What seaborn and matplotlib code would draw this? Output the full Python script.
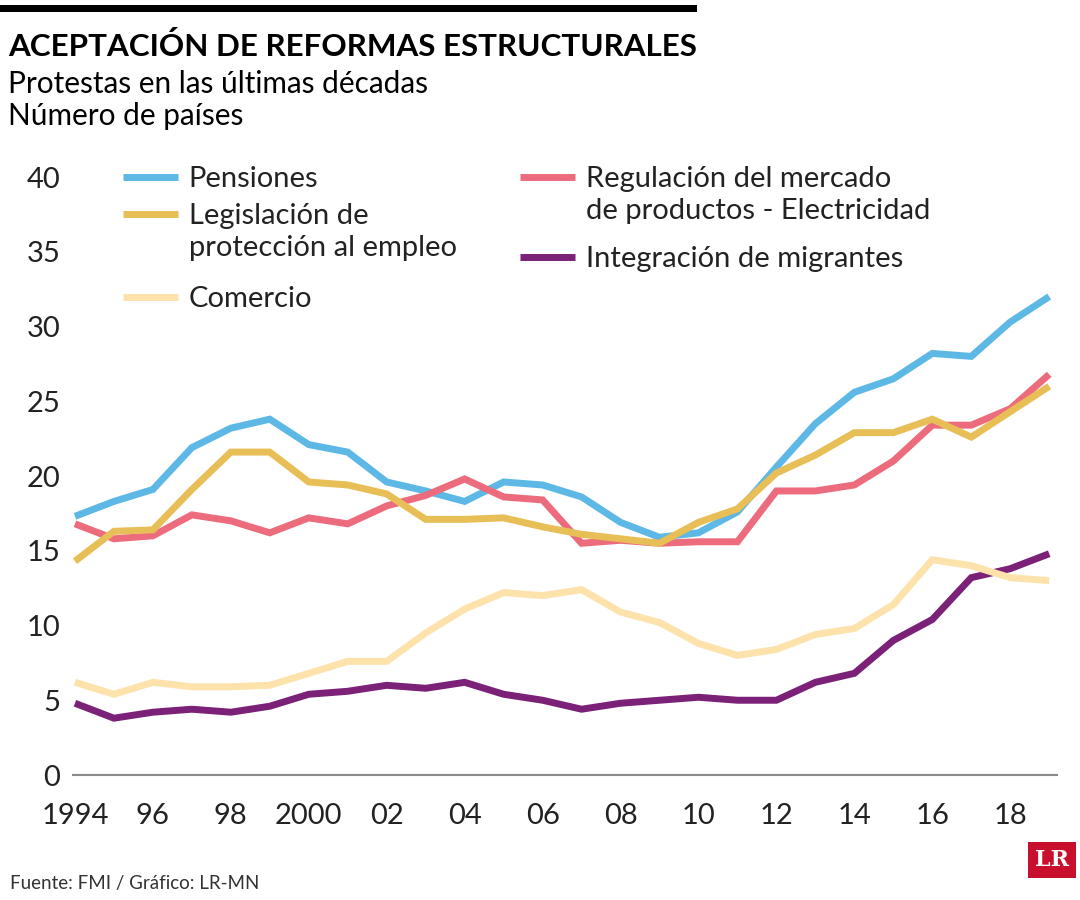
import pandas as pd
import matplotlib.pyplot as plt
import seaborn as sns
from matplotlib import font_manager
from matplotlib.lines import Line2D
from matplotlib.legend import Legend
from matplotlib.patches import Rectangle

# Data
years = list(range(1994, 2020))
pensiones = [17.3, 18.3, 19.1, 21.9, 23.2, 23.8, 22.1, 21.6, 19.6, 19.0, 18.3, 19.6, 19.4,
             18.6, 16.9, 15.9, 16.2, 17.6, 20.6, 23.5, 25.6, 26.5, 28.2, 28.0, 30.3, 32.0]
legislacion = [14.3, 16.3, 16.4, 19.1, 21.6, 21.6, 19.6, 19.4, 18.8, 17.1, 17.1, 17.2, 16.6,
               16.1, 15.8, 15.5, 16.9, 17.8, 20.2, 21.4, 22.9, 22.9, 23.8, 22.6, 24.3, 26.0]
regulacion = [16.8, 15.8, 16.0, 17.4, 17.0, 16.2, 17.2, 16.8, 18.0, 18.7, 19.8, 18.6, 18.4,
              15.5, 15.7, 15.5, 15.6, 15.6, 19.0, 19.0, 19.4, 21.0, 23.4, 23.4, 24.5, 26.8]
comercio = [6.2, 5.4, 6.2, 5.9, 5.9, 6.0, 6.8, 7.6, 7.6, 9.5, 11.1, 12.2, 12.0,
            12.4, 10.9, 10.2, 8.8, 8.0, 8.4, 9.4, 9.8, 11.4, 14.4, 14.0, 13.2, 13.0]
migrantes = [4.8, 3.8, 4.2, 4.4, 4.2, 4.6, 5.4, 5.6, 6.0, 5.8, 6.2, 5.4, 5.0,
             4.4, 4.8, 5.0, 5.2, 5.0, 5.0, 6.2, 6.8, 9.0, 10.4, 13.2, 13.8, 14.8]

x_labels = ["1994", "96", "98", "2000", "02", "04", "06", "08", "10", "12", "14", "16", "18"]
y_ticks = [0, 5, 10, 15, 20, 25, 30, 35, 40]

colors = {
    "Pensiones": "#5DB8E6",
    "Regulación": "#EC6B7C",
    "Legislación": "#E8BF57",
    "Migrantes": "#7B2177",
    "Comercio": "#FDE2AC",
}
series = {
    "Pensiones": pensiones,
    "Regulación": regulacion,
    "Legislación": legislacion,
    "Migrantes": migrantes,
    "Comercio": comercio,
}

df = pd.DataFrame({"year": years, **series})

sns.set_style("white")
available = {f.name for f in font_manager.fontManager.ttflist}
body_font = "Lato" if "Lato" in available else "DejaVu Sans"
plt.rcParams["font.family"] = [body_font, "DejaVu Sans"]

fig = plt.figure(figsize=(10.8, 9), dpi=100)
ax = fig.add_axes([73 / 1080, 1 - 775 / 900, (1057 - 73) / 1080, (775 - 177) / 900])

for name, vals in series.items():
    sns.lineplot(data=df, x="year", y=name, ax=ax, color=colors[name],
                 linewidth=5, legend=False, solid_capstyle="butt", solid_joinstyle="miter")

ax.set_xlim(1993.95, 2019.2)
ax.set_ylim(0, 40)
ax.set_xlabel("")
ax.set_ylabel("")

for s in ["top", "right", "left"]:
    ax.spines[s].set_visible(False)
ax.spines["bottom"].set_color("#8a8a8a")
ax.spines["bottom"].set_linewidth(1.5)

ax.set_xticks(years[::2])
ax.set_xticklabels(x_labels)
ax.set_xticks(years[1::2], minor=True)
ax.tick_params(axis="x", which="major", direction="in", length=12, width=1.2,
               color="#8a8a8a", pad=20, labelsize=21, labelcolor="#222222")
ax.tick_params(axis="x", which="minor", direction="in", length=5, width=1.2, color="#8a8a8a")
ax.set_yticks(y_ticks)
ax.tick_params(axis="y", length=0, pad=9, labelsize=21, labelcolor="#222222")

# Legend: one small legend per series
def add_legend(name, lines, anchor):
    handles = [Line2D([], [], color=colors[name], linewidth=5, solid_capstyle="butt")]
    handles += [Line2D([], [], color="none")] * (len(lines) - 1)
    leg = Legend(ax, handles, lines, loc="upper left", bbox_to_anchor=anchor,
                 bbox_transform=fig.transFigure, frameon=False, fontsize=21,
                 handlelength=1.9, handletextpad=0.35, labelspacing=0.22,
                 borderpad=0, borderaxespad=0, labelcolor="#222222")
    ax.add_artist(leg)

add_legend("Pensiones", ["Pensiones"], (123 / 1080, 1 - 166 / 900))
add_legend("Legislación", ["Legislación de", "protección al empleo"], (123 / 1080, 1 - 203 / 900))
add_legend("Comercio", ["Comercio"], (123 / 1080, 1 - 286 / 900))
add_legend("Regulación", ["Regulación del mercado", "de productos - Electricidad"], (520 / 1080, 1 - 166 / 900))
add_legend("Migrantes", ["Integración de migrantes"], (520 / 1080, 1 - 246 / 900))

# Header
fig.add_artist(Rectangle((0, 1 - 12 / 900), 697 / 1080, 7 / 900, transform=fig.transFigure,
                         facecolor="black", edgecolor="none"))
fig.text(8 / 1080, 1 - 46 / 900, "ACEPTACIÓN DE REFORMAS ESTRUCTURALES", fontsize=22.6,
         fontweight="bold", va="center", ha="left", color="black")
fig.text(8 / 1080, 1 - 84 / 900, "Protestas en las últimas décadas", fontsize=21.4,
         va="center", ha="left", color="black")
fig.text(8 / 1080, 1 - 116 / 900, "Número de países", fontsize=21.4,
         va="center", ha="left", color="black")

# Footer
fig.text(10 / 1080, 1 - 884 / 900, "Fuente: FMI / Gráfico: LR-MN", fontsize=13.5,
         va="center", ha="left", color="#333333")
fig.text(1052 / 1080, 1 - 860 / 900, "LR", fontsize=16, fontweight="bold", family="DejaVu Serif",
         color="white", ha="center", va="center",
         bbox=dict(boxstyle="square,pad=0.3", facecolor="#C8102E", edgecolor="none"))

fig.savefig("out.png", dpi=100)
